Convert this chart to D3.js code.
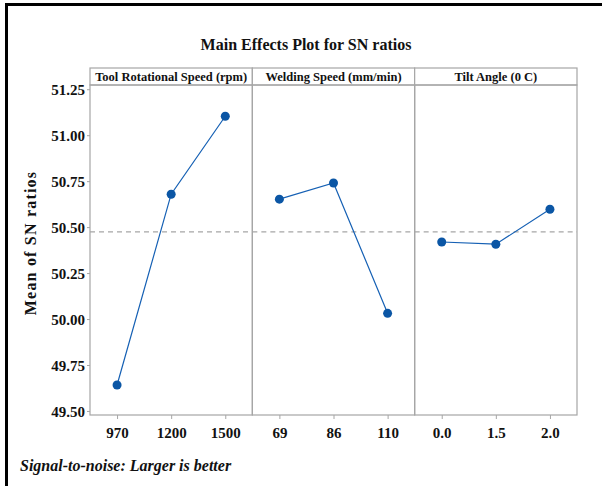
<!DOCTYPE html>
<html>
<head>
<meta charset="utf-8">
<script src="https://cdn.jsdelivr.net/npm/d3@7"></script>
<style>
  body { margin: 0; background: #fff; }
  svg { display: block; }
  svg text { font-family: "Liberation Serif", "Times New Roman", serif !important; font-weight: bold; fill: #111; }
</style>
</head>
<body>
<svg id="chart" width="602" height="486"></svg>
<script>
// ---- data ----
const factors = ["Tool Rotational Speed (rpm)", "Welding Speed (mm/min)", "Tilt Angle (0 C)"];
const toolLevels = ["970", "1200", "1500"];
const weldLevels = ["69", "86", "110"];
const tiltLevels = ["0.0", "1.5", "2.0"];
const toolSN = [49.641, 50.679, 51.103];
const weldSN = [50.652, 50.740, 50.031];
const tiltSN = [50.419, 50.407, 50.597];
const yTicks = [49.50, 49.75, 50.00, 50.25, 50.50, 50.75, 51.00, 51.25];

const panels = [
  {name: factors[0], levels: toolLevels, values: toolSN},
  {name: factors[1], levels: weldLevels, values: weldSN},
  {name: factors[2], levels: tiltLevels, values: tiltSN}
];
const grandMean = d3.mean(toolSN.concat(weldSN, tiltSN));

// ---- layout ----
const plotLeft = 90, plotRight = 577;
const stripTop = 68, plotTop = 85, plotBottom = 415;
const grey = "#a6a6a6", blue = "#0b56a5";

const svg = d3.select("#chart");

// outer frame (only top and left edges show in the picture)
svg.append("rect")
  .attr("x", 6.5).attr("y", 4.5)
  .attr("width", 640).attr("height", 520)
  .attr("fill", "none").attr("stroke", "#000").attr("stroke-width", 3);

svg.append("text")
  .attr("x", 306).attr("y", 50)
  .attr("text-anchor", "middle")
  .style("font-size", "16px")
  .text("Main Effects Plot for SN ratios");

const y = d3.scaleLinear().domain([49.478, 51.273]).range([plotBottom, plotTop]);
const px = d3.scaleBand().domain(d3.range(panels.length)).range([plotLeft, plotRight]);

// y axis
const yAxis = svg.append("g")
  .attr("transform", `translate(${plotLeft},0)`)
  .call(d3.axisLeft(y).tickValues(yTicks).tickFormat(d3.format(".2f")).tickSize(3).tickPadding(2));
yAxis.select(".domain").remove();
yAxis.selectAll(".tick line").attr("stroke", grey);
yAxis.selectAll(".tick text")
  .style("font-size", "15px")
  .attr("dy", "0.36em");

svg.append("text")
  .attr("transform", "translate(36,243) rotate(-90)")
  .attr("text-anchor", "middle")
  .style("font-size", "16px")
  .style("letter-spacing", "1.2px")
  .text("Mean of SN ratios");

panels.forEach((p, i) => {
  const x0 = px(i), x1 = x0 + px.bandwidth();
  const x = d3.scalePoint().domain(p.levels).range([x0, x1]).padding(0.5);
  const g = svg.append("g");

  // strip
  g.append("rect")
    .attr("x", x0).attr("y", stripTop)
    .attr("width", x1 - x0).attr("height", plotTop - stripTop)
    .attr("fill", "#fff").attr("stroke", grey).attr("stroke-width", 1.2);
  g.append("text")
    .attr("x", (x0 + x1) / 2).attr("y", 81)
    .attr("text-anchor", "middle")
    .style("font-size", "12.5px")
    .text(p.name);

  // panel box
  g.append("rect")
    .attr("x", x0).attr("y", plotTop)
    .attr("width", x1 - x0).attr("height", plotBottom - plotTop)
    .attr("fill", "none").attr("stroke", grey).attr("stroke-width", 1.2);

  // x axis
  const xa = g.append("g")
    .attr("transform", `translate(0,${plotBottom})`)
    .call(d3.axisBottom(x).tickSize(4).tickPadding(8));
  xa.select(".domain").remove();
  xa.selectAll(".tick line").attr("stroke", grey);
  xa.selectAll(".tick text").style("font-size", "15px");

  // reference line
  g.append("line")
    .attr("x1", x0).attr("x2", x1)
    .attr("y1", y(grandMean)).attr("y2", y(grandMean))
    .attr("stroke", grey).attr("stroke-width", 1.2)
    .attr("stroke-dasharray", "5,4");

  const pts = p.levels.map((l, k) => [x(l), y(p.values[k])]);
  g.append("path")
    .attr("d", d3.line()(pts))
    .attr("fill", "none").attr("stroke", "#1560b4").attr("stroke-width", 1.2);
  g.selectAll("circle").data(pts).join("circle")
    .attr("cx", d => d[0]).attr("cy", d => d[1])
    .attr("r", 4.5).attr("fill", blue);
});

svg.append("text")
  .attr("x", 20).attr("y", 471)
  .style("font-size", "16px")
  .style("font-style", "italic")
  .text("Signal-to-noise: Larger is better");
</script>
</body>
</html>
